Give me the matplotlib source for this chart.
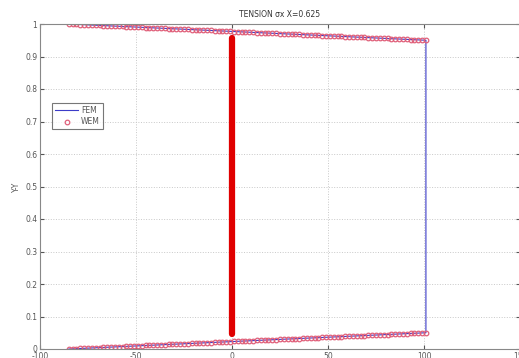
import matplotlib
matplotlib.use('Agg')
import matplotlib.pyplot as plt

# WEM sample points along top and bottom edges
x_wem = [-85, -83, -81, -79, -77, -75, -73, -71, -69, -67,
         -65, -63, -61, -59, -57, -55, -53, -51, -49, -47,
         -45, -43, -41, -39, -37, -35, -33, -31, -29, -27,
         -25, -23, -21, -19, -17, -15, -13, -11, -9, -7,
         -5, -3, -1, 1, 3, 5, 7, 9, 11, 13,
         15, 17, 19, 21, 23, 25, 27, 29, 31, 33,
         35, 37, 39, 41, 43, 45, 47, 49, 51, 53,
         55, 57, 59, 61, 63, 65, 67, 69, 71, 73,
         75, 77, 79, 81, 83, 85, 87, 89, 91, 93,
         95, 97, 99, 101]
y_top = [1.0000, 0.9995, 0.9989, 0.9984, 0.9978, 0.9973, 0.9968, 0.9962, 0.9957, 0.9952,
         0.9946, 0.9941, 0.9935, 0.9930, 0.9925, 0.9919, 0.9914, 0.9909, 0.9903, 0.9898,
         0.9892, 0.9887, 0.9882, 0.9876, 0.9871, 0.9866, 0.9860, 0.9855, 0.9849, 0.9844,
         0.9839, 0.9833, 0.9828, 0.9823, 0.9817, 0.9812, 0.9806, 0.9801, 0.9796, 0.9790,
         0.9785, 0.9780, 0.9774, 0.9769, 0.9763, 0.9758, 0.9753, 0.9747, 0.9742, 0.9737,
         0.9731, 0.9726, 0.9720, 0.9715, 0.9710, 0.9704, 0.9699, 0.9694, 0.9688, 0.9683,
         0.9677, 0.9672, 0.9667, 0.9661, 0.9656, 0.9651, 0.9645, 0.9640, 0.9634, 0.9629,
         0.9624, 0.9618, 0.9613, 0.9608, 0.9602, 0.9597, 0.9591, 0.9586, 0.9581, 0.9575,
         0.9570, 0.9565, 0.9559, 0.9554, 0.9548, 0.9543, 0.9538, 0.9532, 0.9527, 0.9522,
         0.9516, 0.9511, 0.9505, 0.9500]
y_bot = [0.0000, 0.0005, 0.0011, 0.0016, 0.0022, 0.0027, 0.0032, 0.0038, 0.0043, 0.0048,
         0.0054, 0.0059, 0.0065, 0.0070, 0.0075, 0.0081, 0.0086, 0.0091, 0.0097, 0.0102,
         0.0108, 0.0113, 0.0118, 0.0124, 0.0129, 0.0134, 0.0140, 0.0145, 0.0151, 0.0156,
         0.0161, 0.0167, 0.0172, 0.0177, 0.0183, 0.0188, 0.0194, 0.0199, 0.0204, 0.0210,
         0.0215, 0.0220, 0.0226, 0.0231, 0.0237, 0.0242, 0.0247, 0.0253, 0.0258, 0.0263,
         0.0269, 0.0274, 0.0280, 0.0285, 0.0290, 0.0296, 0.0301, 0.0306, 0.0312, 0.0317,
         0.0323, 0.0328, 0.0333, 0.0339, 0.0344, 0.0349, 0.0355, 0.0360, 0.0366, 0.0371,
         0.0376, 0.0382, 0.0387, 0.0392, 0.0398, 0.0403, 0.0409, 0.0414, 0.0419, 0.0425,
         0.0430, 0.0435, 0.0441, 0.0446, 0.0452, 0.0457, 0.0462, 0.0468, 0.0473, 0.0478,
         0.0484, 0.0489, 0.0495, 0.0500]

# FEM outline
fem_x = [-85, 101, 101, -85]
fem_y = [1.0, 0.95, 0.05, 0.0]

# WEM mid-section (x = 0)
mid_x = [0, 0]
mid_y = [0.046, 0.957]

xticks = [-100, -50, 0, 50, 100, 150]
xtick_labels = ['-100', '-50', '0', '50', '100', '150']
yticks = [0, 0.1, 0.2, 0.3, 0.4, 0.5, 0.6, 0.7, 0.8, 0.9, 1.0]
ytick_labels = ['0', '0.1', '0.2', '0.3', '0.4', '0.5', '0.6', '0.7', '0.8', '0.9', '1']

W, H = 519, 358
fig = plt.figure(figsize=(W / 100, H / 100), dpi=100)
ax = fig.add_axes([40 / W, (H - 349) / H, 480 / W, 325 / H])

fem_line, = ax.plot(fem_x, fem_y, color='#3c3cc8', lw=0.8, label='FEM')
mk = dict(ls='none', marker='o', ms=3.3, mfc='none', mec='#e0607a', mew=0.9)
wem_pts, = ax.plot(x_wem, y_top, label='WEM', **mk)
ax.plot(x_wem, y_bot, **mk)
ax.plot(mid_x, mid_y, color='#e00000', lw=4.5, solid_capstyle='round')

ax.set_xlim(-100, 150)
ax.set_ylim(0, 1)
ax.set_xticks(xticks)
ax.set_xticklabels(xtick_labels)
ax.set_yticks(yticks)
ax.set_yticklabels(ytick_labels)
ax.grid(True, ls=':', color='#c8c8c8', lw=0.7)
ax.tick_params(direction='in', length=3, labelsize=5.5, colors='#555555',
               top=True, right=True, pad=2)
for s in ax.spines.values():
    s.set_color('#888888')
    s.set_linewidth(0.8)

ax.set_title('TENSION σx X=0.625', fontsize=5.5, color='#333333', pad=5)
ax.set_ylabel('Y-Y', fontsize=5.5, color='#555555', labelpad=3)

leg = ax.legend(handles=[fem_line, wem_pts], loc='upper left',
                bbox_to_anchor=(0.025, 0.757), fontsize=5.5, frameon=True,
                fancybox=False, edgecolor='#555555', handlelength=3.0,
                handletextpad=0.4, borderpad=0.4, labelspacing=0.3,
                borderaxespad=0)
leg.get_frame().set_linewidth(0.8)
for t in leg.get_texts():
    t.set_color('#555555')

fig.savefig('out.png', dpi=100, facecolor='white')
